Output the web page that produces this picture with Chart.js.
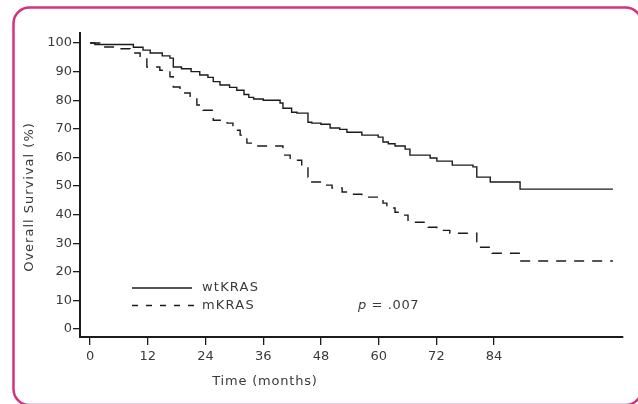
<!DOCTYPE html>
<html>
<head>
<meta charset="utf-8">
<script src="https://cdn.jsdelivr.net/npm/chart.js@4"></script>
<style>
  body { margin: 0; background: #fff; }
  #wrap { width: 638px; height: 404px; }
</style>
</head>
<body>
<div id="wrap"><canvas id="kmChart" width="638" height="404"></canvas></div>
<script>
// survival data (months, % surviving)
const wtMonths = [0, 1, 8, 9, 11, 12.5, 15, 16.6, 17.3, 19, 21, 22.8, 24.5, 25.6, 27, 29, 30.5, 32, 33, 34,
  36, 39.5, 40.1, 41.9, 43, 45.3, 46.1, 48, 49.9, 51.9, 53.4, 56.5, 59.9, 60.9, 62, 63.4, 65.5, 66.5, 70.7, 72.1,
  75.3, 79.6, 80.4, 83.2, 89.4, 108.7];
const wtSurvival = [100, 99.5, 99.5, 98.5, 97.5, 96.5, 95.5, 94.7, 91.6, 91, 90, 88.8, 88, 86.5, 85.3, 84.5, 83.5, 82, 81, 80.4,
  80, 79, 77.2, 75.8, 75.5, 72.3, 72, 71.6, 70.3, 69.8, 68.8, 67.8, 67.1, 65.4, 64.8, 64, 62.9, 60.8, 59.8, 58.7,
  57.3, 56.7, 53.1, 51.4, 48.9, 48.9];

const mMonths = [0, 2, 6.2, 8.3, 10.4, 11.8, 14.5, 16.6, 17.3, 18.7, 20.8, 22.2, 23.5, 25.6, 28.5, 29.7, 31.2, 32.6, 34.5, 40.1,
  41.6, 44, 45.3, 46.1, 48.4, 50.3, 52.4, 54, 56.5, 59.9, 60.9, 61.7, 63.4, 65, 66.1, 70.3, 72.1, 74.8, 80.4, 83.6,
  89.4, 108.7];
const mSurvival = [100, 98.6, 98, 96.5, 94.7, 91.6, 90.5, 88.2, 84.6, 82.5, 80.7, 78.3, 76.5, 73, 72, 69.5, 67.8, 65, 64, 60.8,
  59, 56.7, 53.1, 51.4, 50.3, 49.3, 47.9, 47.1, 46.1, 45.4, 44, 42.3, 40.8, 39.8, 37.3, 35.6, 34.5, 33.5, 28.6, 26.5,
  23.8, 23.8];

const seriesNames = ['wtKRAS', 'mKRAS'];
const xTicks = [0, 12, 24, 36, 48, 60, 72, 84];
const yTicks = [0, 10, 20, 30, 40, 50, 60, 70, 80, 90, 100];
const pValueText = '.007';

const FONT = '"DejaVu Sans", sans-serif';
const INK = '#1b1b1b';
const TXT = '#3a3a3a';

function toPoints(xs, ys) {
  return xs.map((x, i) => ({ x: x, y: ys[i] }));
}

// frame, axis titles, legend and p value drawn by hand
const decorPlugin = {
  id: 'decor',
  afterDraw(chart) {
    const ctx = chart.ctx;
    ctx.save();

    // pink rounded frame (runs off the right and bottom edges)
    ctx.strokeStyle = '#d4317f';
    ctx.lineWidth = 2.5;
    ctx.beginPath();
    ctx.roundRect(13.5, 7.5, 628, 397.5, 16);
    ctx.stroke();

    ctx.fillStyle = TXT;
    ctx.font = '13px ' + FONT;
    ctx.textBaseline = 'middle';

    // x title
    ctx.textAlign = 'center';
    ctx.letterSpacing = '0.8px';
    ctx.fillText('Time (months)', 265, 382);

    // y title
    ctx.save();
    ctx.letterSpacing = '1px';
    ctx.translate(30, 197);
    ctx.rotate(-Math.PI / 2);
    ctx.fillText('Overall Survival (%)', 0, 0);
    ctx.restore();

    // legend
    ctx.strokeStyle = INK;
    ctx.lineWidth = 1.3;
    ctx.beginPath();
    ctx.moveTo(132, 288);
    ctx.lineTo(192, 288);
    ctx.stroke();
    ctx.setLineDash([6, 8]);
    ctx.beginPath();
    ctx.moveTo(132, 305.5);
    ctx.lineTo(194, 305.5);
    ctx.stroke();
    ctx.setLineDash([]);

    ctx.textAlign = 'left';
    ctx.letterSpacing = '1.2px';
    ctx.fillText(seriesNames[0], 202, 288);
    ctx.fillText(seriesNames[1], 202, 306);

    // p value
    ctx.letterSpacing = '0.6px';
    ctx.font = 'italic 13px ' + FONT;
    ctx.fillText('p', 358, 306);
    const pw = ctx.measureText('p').width;
    ctx.font = '13px ' + FONT;
    ctx.fillText(' = ' + pValueText, 358 + pw, 306);

    ctx.restore();
  }
};

const ctx = document.getElementById('kmChart');
new Chart(ctx, {
  type: 'line',
  data: {
    datasets: [
      {
        label: seriesNames[0],
        data: toPoints(wtMonths, wtSurvival),
        borderColor: INK,
        borderWidth: 1.4,
        stepped: true,
        pointRadius: 0,
        fill: false
      },
      {
        label: seriesNames[1],
        data: toPoints(mMonths, mSurvival),
        borderColor: INK,
        borderWidth: 1.4,
        borderDash: [10, 8],
        stepped: true,
        pointRadius: 0,
        fill: false
      }
    ]
  },
  options: {
    responsive: false,
    animation: false,
    layout: { padding: { top: 33, right: 15, left: 0, bottom: 0 } },
    plugins: {
      legend: { display: false },
      tooltip: { enabled: false }
    },
    scales: {
      x: {
        type: 'linear',
        min: -2.1,
        max: 110.8,
        afterBuildTicks: s => { s.ticks = xTicks.map(v => ({ value: v })); },
        afterFit: s => { s.height = 67; },
        grid: { drawOnChartArea: false, drawTicks: true, tickLength: 8, color: INK, lineWidth: 1.3 },
        border: { display: true, color: INK, width: 2 },
        ticks: { color: TXT, font: { family: FONT, size: 13 }, padding: 4, maxRotation: 0 }
      },
      y: {
        type: 'linear',
        min: -2.8,
        max: 103.5,
        afterBuildTicks: s => { s.ticks = yTicks.map(v => ({ value: v })); },
        afterFit: s => { s.width = 80; },
        grid: { drawOnChartArea: false, drawTicks: true, tickLength: 7, color: INK, lineWidth: 1.3 },
        border: { display: true, color: INK, width: 2 },
        ticks: { color: TXT, font: { family: FONT, size: 13 }, padding: 1 }
      }
    }
  },
  plugins: [decorPlugin]
});
</script>
</body>
</html>
